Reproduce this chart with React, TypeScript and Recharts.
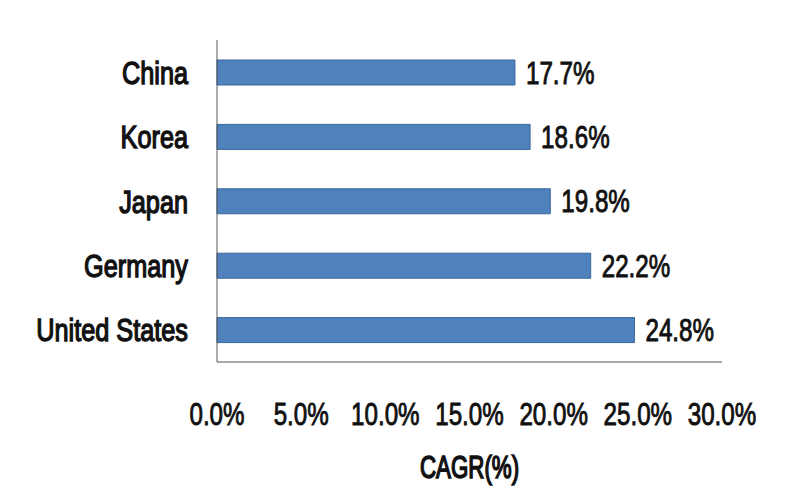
import React from "react";
import { BarChart, Bar, XAxis, YAxis, LabelList } from "recharts";

// CAGR by country, top to bottom as drawn
const countries = ["China", "Korea", "Japan", "Germany", "United States"];
const cagr = [17.7, 18.6, 19.8, 22.2, 24.8];
const xTicks = [0, 5, 10, 15, 20, 25, 30];

const data = countries.map((name, i) => ({ name, value: cagr[i] }));

const FONT = '"Liberation Sans", Arial, sans-serif';
const INK = "#111";
const pct = (v: number) => `${Number(v).toFixed(1)}%`;

// the original uses a narrow, semi-heavy font: squeeze text and thicken it a bit
function Squeezed({ x, y, sx, anchor, size, dy, weight = 0.9, children }: any) {
  return (
    <g transform={`translate(${x},${y}) scale(${sx},1)`}>
      <text
        x={0}
        y={0}
        dy={dy}
        textAnchor={anchor}
        fontSize={size}
        fontFamily={FONT}
        fill={INK}
        stroke={INK}
        strokeWidth={weight}
      >
        {children}
      </text>
    </g>
  );
}

const CountryTick = ({ x, y, payload }: any) => (
  <Squeezed x={x} y={y} sx={0.79} anchor="end" size={32} dy="0.36em" weight={1.4}>
    {payload.value}
  </Squeezed>
);

const PctTick = ({ x, y, payload }: any) => (
  <Squeezed x={x} y={y} sx={0.78} anchor="middle" size={31} dy="0.72em">
    {pct(payload.value)}
  </Squeezed>
);

const ValueLabel = ({ x, y, width, height, value }: any) => (
  <Squeezed x={x + width + 11} y={y + height / 2} sx={0.78} anchor="start" size={31} dy="0.36em">
    {pct(value)}
  </Squeezed>
);

const AxisTitle = ({ viewBox }: any) => (
  <Squeezed x={viewBox.x + viewBox.width / 2} y={478} sx={0.72} anchor="middle" size={31} weight={1.6}>
    CAGR(%)
  </Squeezed>
);

export default function App() {
  return (
    <div style={{ position: "absolute", left: 0, top: 0, background: "#fff" }}>
      <BarChart
        width={800}
        height={497}
        data={data}
        layout="vertical"
        margin={{ top: 40, right: 78, left: 0, bottom: 0 }}
      >
        <XAxis
          type="number"
          domain={[0, 30]}
          ticks={xTicks}
          interval={0}
          axisLine={{ stroke: "#555" }}
          tickLine={false}
          tickMargin={35}
          height={135}
          tick={<PctTick />}
          label={<AxisTitle />}
        />
        <YAxis
          type="category"
          dataKey="name"
          width={217}
          axisLine={{ stroke: "#555" }}
          tickLine={false}
          tickMargin={23}
          tick={<CountryTick />}
        />
        <Bar dataKey="value" fill="#4F81BD" stroke="#3A679C" barSize={25} isAnimationActive={false}>
          <LabelList dataKey="value" content={<ValueLabel />} />
        </Bar>
      </BarChart>
    </div>
  );
}
